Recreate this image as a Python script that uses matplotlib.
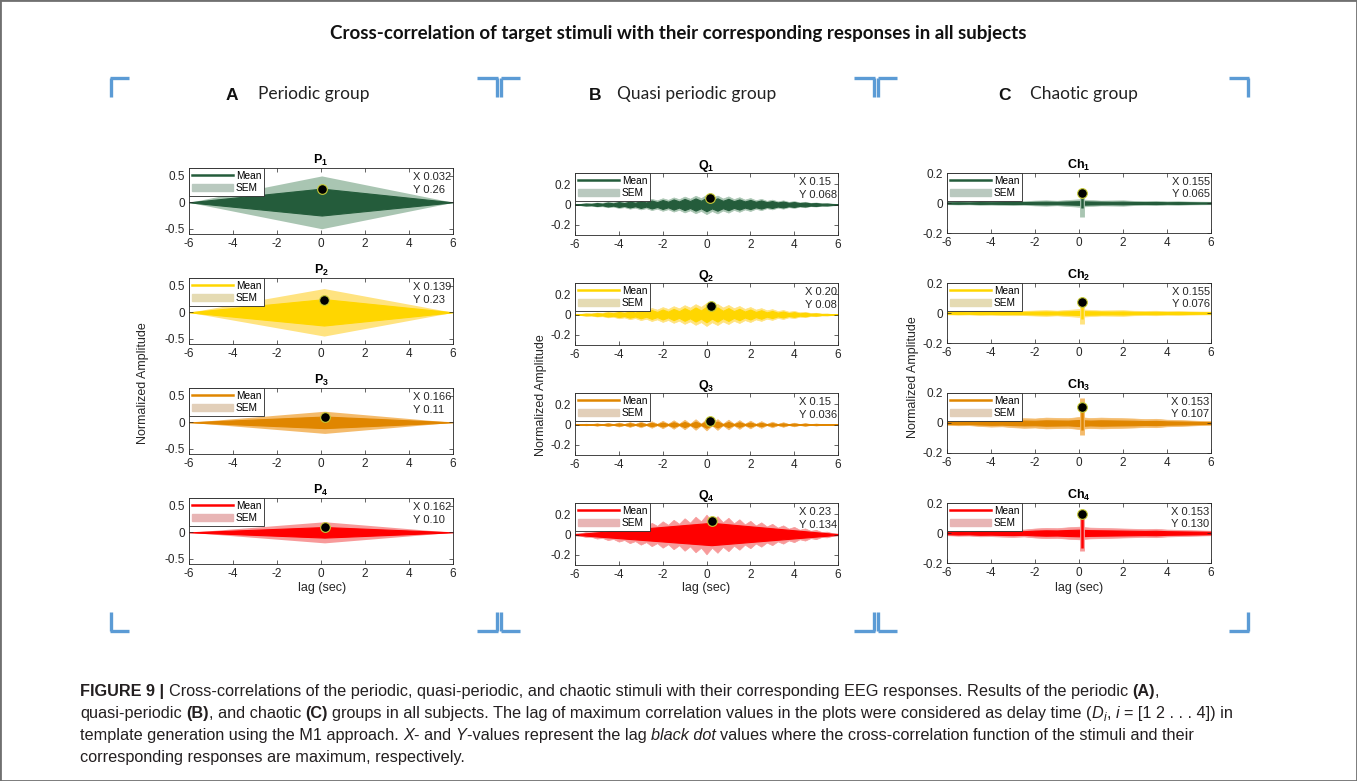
import numpy as np
import matplotlib.pyplot as plt
from matplotlib.lines import Line2D
from matplotlib.patches import Patch, Rectangle

plt.rcParams['font.family'] = ['Liberation Sans', 'DejaVu Sans']
plt.rcParams['axes.unicode_minus'] = False
plt.rcParams['mathtext.fontset'] = 'custom'
plt.rcParams['mathtext.rm'] = 'Liberation Sans'
plt.rcParams['mathtext.bf'] = 'Liberation Sans:bold'
plt.rcParams['mathtext.it'] = 'Liberation Sans:italic'

# ---------------- data ----------------
main_title = "Cross-correlation of target stimuli with their corresponding responses in all subjects"
group_letters = ["A", "B", "C"]
group_names = ["Periodic group", "Quasi periodic group", "Chaotic group"]
panel_titles = [[r"$\mathbf{P_%d}$" % i for i in range(1, 5)],
                [r"$\mathbf{Q_%d}$" % i for i in range(1, 5)],
                [r"$\mathbf{Ch_%d}$" % i for i in range(1, 5)]]

# black dot (data tip) values
peak_x = [[0.032, 0.139, 0.166, 0.162],
          [0.15, 0.20, 0.15, 0.23],
          [0.155, 0.155, 0.153, 0.153]]
peak_y = [[0.26, 0.23, 0.11, 0.10],
          [0.068, 0.08, 0.036, 0.134],
          [0.065, 0.076, 0.107, 0.130]]
tip_x = [["0.032", "0.139", "0.166", "0.162"],
         ["0.15", "0.20", "0.15", "0.23"],
         ["0.155", "0.155", "0.153", "0.153"]]
tip_y = [["0.26", "0.23", "0.11", "0.10"],
         ["0.068", "0.08", "0.036", "0.134"],
         ["0.065", "0.076", "0.107", "0.130"]]

# periodic group: diamond envelopes (value at peak lag, zero at +-6)
p_mean_up = [0.26, 0.25, 0.11, 0.10]
p_mean_lo = [-0.25, -0.25, -0.11, -0.10]
p_sem_up = [0.50, 0.45, 0.21, 0.20]
p_sem_lo = [-0.50, -0.45, -0.21, -0.20]

# quasi periodic group: envelopes read every 0.25 s from -6 to 6
q_lag = np.linspace(-6, 6, 49)
q1_mean = [0.004, 0.004, 0.009, 0.006, 0.014, 0.008, 0.019, 0.011, 0.024, 0.014, 0.029, 0.017,
           0.034, 0.020, 0.039, 0.024, 0.044, 0.027, 0.050, 0.030, 0.055, 0.034, 0.060, 0.037,
           0.066, 0.038, 0.061, 0.036, 0.056, 0.033, 0.050, 0.030, 0.045, 0.027, 0.040, 0.024,
           0.034, 0.020, 0.029, 0.017, 0.024, 0.014, 0.019, 0.011, 0.014, 0.008, 0.009, 0.005, 0.004]
q1_sem = [0.006, 0.007, 0.013, 0.012, 0.020, 0.017, 0.027, 0.021, 0.034, 0.026, 0.041, 0.031,
          0.048, 0.036, 0.055, 0.041, 0.062, 0.046, 0.070, 0.052, 0.078, 0.057, 0.086, 0.063,
          0.095, 0.064, 0.088, 0.059, 0.080, 0.053, 0.072, 0.048, 0.064, 0.042, 0.056, 0.036,
          0.048, 0.031, 0.041, 0.026, 0.034, 0.021, 0.027, 0.016, 0.020, 0.012, 0.013, 0.007, 0.006]
q2_mean = [0.003, 0.003, 0.008, 0.006, 0.013, 0.009, 0.019, 0.012, 0.025, 0.015, 0.031, 0.019,
           0.037, 0.022, 0.043, 0.025, 0.049, 0.028, 0.055, 0.032, 0.062, 0.036, 0.069, 0.040,
           0.076, 0.040, 0.070, 0.036, 0.063, 0.033, 0.056, 0.029, 0.049, 0.025, 0.042, 0.021,
           0.035, 0.018, 0.029, 0.014, 0.023, 0.011, 0.017, 0.008, 0.011, 0.005, 0.006, 0.003, 0.003]
q2_sem = [0.005, 0.006, 0.012, 0.011, 0.020, 0.017, 0.028, 0.023, 0.037, 0.029, 0.046, 0.035,
          0.055, 0.042, 0.064, 0.048, 0.073, 0.054, 0.082, 0.061, 0.092, 0.068, 0.102, 0.075,
          0.113, 0.076, 0.104, 0.069, 0.094, 0.062, 0.084, 0.055, 0.074, 0.048, 0.063, 0.041,
          0.053, 0.034, 0.044, 0.028, 0.035, 0.022, 0.026, 0.015, 0.017, 0.009, 0.009, 0.005, 0.005]
q3_mean = [0.002, 0.001, 0.004, 0.002, 0.006, 0.002, 0.008, 0.002, 0.010, 0.003, 0.012, 0.003,
           0.014, 0.003, 0.016, 0.003, 0.019, 0.004, 0.022, 0.004, 0.025, 0.004, 0.028, 0.005,
           0.032, 0.005, 0.029, 0.004, 0.025, 0.004, 0.022, 0.004, 0.019, 0.003, 0.016, 0.003,
           0.013, 0.003, 0.011, 0.003, 0.009, 0.002, 0.007, 0.002, 0.005, 0.002, 0.003, 0.001, 0.002]
q3_sem = [0.004, 0.003, 0.008, 0.004, 0.012, 0.004, 0.016, 0.005, 0.020, 0.005, 0.024, 0.006,
          0.028, 0.006, 0.032, 0.007, 0.037, 0.007, 0.042, 0.008, 0.047, 0.008, 0.052, 0.009,
          0.058, 0.009, 0.053, 0.008, 0.048, 0.008, 0.043, 0.007, 0.038, 0.007, 0.033, 0.006,
          0.028, 0.006, 0.023, 0.005, 0.018, 0.005, 0.014, 0.004, 0.010, 0.004, 0.006, 0.003, 0.004]
q4_sem = [0.010, 0.012, 0.025, 0.023, 0.040, 0.033, 0.055, 0.044, 0.070, 0.054, 0.085, 0.065,
          0.100, 0.075, 0.115, 0.085, 0.130, 0.096, 0.145, 0.106, 0.160, 0.117, 0.175, 0.130,
          0.195, 0.130, 0.180, 0.121, 0.165, 0.110, 0.150, 0.100, 0.135, 0.089, 0.120, 0.079,
          0.105, 0.068, 0.090, 0.058, 0.075, 0.047, 0.060, 0.036, 0.045, 0.025, 0.028, 0.013, 0.010]
q4_mean_lag = [-6, 0.23, 6]
q4_mean_up = [0.003, 0.115, 0.003]
q4_mean_lo = [-0.003, -0.105, -0.003]

# chaotic group: noise envelopes every 0.5 s plus spike at the peak lag
ch_lag = np.linspace(-6, 6, 25)
ch_mean = [
    [0.004, 0.005, 0.004, 0.006, 0.005, 0.006, 0.007, 0.006, 0.008, 0.009, 0.008, 0.010, 0.012,
     0.010, 0.009, 0.008, 0.009, 0.007, 0.006, 0.007, 0.005, 0.006, 0.005, 0.004, 0.004],
    [0.005, 0.006, 0.005, 0.007, 0.006, 0.008, 0.007, 0.008, 0.009, 0.010, 0.009, 0.011, 0.013,
     0.011, 0.010, 0.009, 0.010, 0.008, 0.007, 0.008, 0.006, 0.007, 0.006, 0.005, 0.005],
    [0.006, 0.008, 0.007, 0.010, 0.012, 0.011, 0.014, 0.016, 0.015, 0.018, 0.017, 0.016, 0.020,
     0.016, 0.018, 0.017, 0.016, 0.015, 0.013, 0.014, 0.011, 0.010, 0.009, 0.007, 0.006],
    [0.008, 0.010, 0.009, 0.012, 0.011, 0.013, 0.014, 0.012, 0.016, 0.018, 0.017, 0.020, 0.022,
     0.019, 0.018, 0.017, 0.016, 0.015, 0.014, 0.015, 0.012, 0.011, 0.010, 0.009, 0.008]]
ch_sem = [
    [0.008, 0.010, 0.009, 0.012, 0.011, 0.013, 0.014, 0.012, 0.016, 0.018, 0.015, 0.020, 0.025,
     0.020, 0.016, 0.017, 0.018, 0.014, 0.013, 0.014, 0.011, 0.012, 0.010, 0.009, 0.008],
    [0.009, 0.011, 0.010, 0.013, 0.012, 0.014, 0.015, 0.014, 0.017, 0.019, 0.016, 0.021, 0.026,
     0.021, 0.017, 0.018, 0.019, 0.015, 0.014, 0.015, 0.012, 0.013, 0.011, 0.010, 0.009],
    [0.012, 0.015, 0.014, 0.020, 0.024, 0.022, 0.028, 0.032, 0.030, 0.036, 0.034, 0.032, 0.040,
     0.033, 0.036, 0.034, 0.032, 0.030, 0.026, 0.028, 0.022, 0.020, 0.017, 0.014, 0.012],
    [0.015, 0.018, 0.017, 0.022, 0.021, 0.024, 0.026, 0.023, 0.030, 0.034, 0.032, 0.038, 0.042,
     0.036, 0.034, 0.032, 0.030, 0.028, 0.026, 0.028, 0.023, 0.021, 0.019, 0.017, 0.015]]
ch_spike_mean = [(-0.035, 0.065), (-0.04, 0.076), (-0.05, 0.107), (-0.10, 0.13)]
ch_spike_sem = [(-0.09, 0.07), (-0.07, 0.06), (-0.08, 0.165), (-0.12, 0.13)]

# colours per row
mean_c = ['#245c3b', '#ffd600', '#e08600', '#ff0000']
sem_c = ['#a9c5b2', '#ffe380', '#f4bb6c', '#f79a9a']
leg_sem_c = ['#b9c9bf', '#e5dbb3', '#e2cfb9', '#e8b5b5']

W, H = 1357, 781
fig = plt.figure(figsize=(W / 100, H / 100), dpi=100)


def add_ax(left, top, width, height):
    return fig.add_axes([left / W, 1 - (top + height) / H, width / W, height / H])


def style_ax(ax, yt, ylim, title, r, col, i):
    ax.set_xlim(-6, 6)
    ax.set_ylim(*ylim)
    ax.set_xticks(range(-6, 7, 2))
    ax.set_yticks(yt)
    ax.set_yticklabels([('%g' % v) for v in yt])
    ax.tick_params(direction='in', top=True, right=True, length=3, width=0.5,
                   labelsize=8.5, labelcolor='#262626', color='#262626', pad=3)
    for s in ax.spines.values():
        s.set_color('#262626')
        s.set_linewidth(0.6)
    ax.set_title(title, fontsize=9, pad=3)
    ax.plot(peak_x[col][i], peak_y[col][i], 'o', ms=7, mfc='black', mec='#c8cc3a',
            mew=0.8, zorder=6)
    ax.text(0.995, 0.94, "X %s\nY %s" % (tip_x[col][i], tip_y[col][i]), transform=ax.transAxes,
            ha='right', va='top', multialignment='left', fontsize=8, linespacing=1.35,
            color='#262626', zorder=7)
    handles = [Line2D([], [], color=mean_c[r], lw=1.8), Patch(color=leg_sem_c[r])]
    leg = ax.legend(handles, ['Mean', 'SEM'], loc='upper left', bbox_to_anchor=(0, 1),
                    borderaxespad=0, fontsize=7.3, handlelength=4, handletextpad=0.3,
                    borderpad=0.3, labelspacing=0.2, fancybox=False, framealpha=1,
                    edgecolor='#262626')
    leg.get_frame().set_linewidth(0.6)
    leg.set_zorder(8)


# column A - periodic
for i in range(4):
    ax = add_ax(189, 168 + 110 * i, 264, 66)
    lag = [-6, peak_x[0][i], 6]
    ax.fill_between(lag, [0, p_sem_lo[i], 0], [0, p_sem_up[i], 0], color=sem_c[i], lw=0)
    ax.fill_between(lag, [0, p_mean_lo[i], 0], [0, p_mean_up[i], 0], color=mean_c[i],
                    lw=0.8, edgecolor=mean_c[i])
    style_ax(ax, [-0.5, 0, 0.5], (-0.6, 0.65), panel_titles[0][i], i, 0, i)

# column B - quasi periodic
q_mean = [q1_mean, q2_mean, q3_mean]
q_sem = [q1_sem, q2_sem, q3_sem, q4_sem]
for i in range(4):
    ax = add_ax(575, 173 + 110 * i, 263, 62)
    sem = np.array(q_sem[i])
    ax.fill_between(q_lag, -sem, sem, color=sem_c[i], lw=0.5, edgecolor=sem_c[i])
    if i < 3:
        m = np.array(q_mean[i])
        ax.fill_between(q_lag, -m, m, color=mean_c[i], lw=0.8, edgecolor=mean_c[i])
    else:
        ax.fill_between(q4_mean_lag, q4_mean_lo, q4_mean_up, color=mean_c[i], lw=0.8,
                        edgecolor=mean_c[i])
    style_ax(ax, [-0.2, 0, 0.2], (-0.3, 0.31), panel_titles[1][i], i, 1, i)

# column C - chaotic
for i in range(4):
    ax = add_ax(947, 173 + 110 * i, 264, 60)
    sem = np.array(ch_sem[i])
    m = np.array(ch_mean[i])
    ax.fill_between(ch_lag, -sem, sem, color=sem_c[i], lw=0.5, edgecolor=sem_c[i])
    ax.fill_between(ch_lag, -m, m, color=mean_c[i], lw=0.8, edgecolor=mean_c[i])
    ax.vlines(peak_x[2][i], *ch_spike_sem[i], color=sem_c[i], lw=3.5)
    ax.vlines(peak_x[2][i], *ch_spike_mean[i], color=mean_c[i], lw=1.8)
    style_ax(ax, [-0.2, 0, 0.2], (-0.2, 0.2), panel_titles[2][i], i, 2, i)

# axis labels
for xc, yc in [(143, 383), (541, 395), (913, 377)]:
    fig.text(xc / W, 1 - yc / H, "Normalized Amplitude", rotation=90, ha='center',
             va='center', fontsize=9, color='#262626')
for xc in [322, 706, 1079]:
    fig.text(xc / W, 1 - 588 / H, "lag (sec)", ha='center', va='center', fontsize=9,
             color='#262626')

# headings
fig.text(678 / W, 1 - 34 / H, main_title, ha='center', va='center', fontsize=13.5,
         fontweight='bold', family=['Lato', 'DejaVu Sans'], color='#111111')
for lx, nx, letter, name in zip([232, 595, 1005], [258, 617, 1030], group_letters, group_names):
    fig.text(lx / W, 1 - 95 / H, letter, ha='center', va='center', fontsize=12.5,
             fontweight='bold', color='#111111')
    fig.text(nx / W, 1 - 94 / H, name, ha='left', va='center', fontsize=12.5,
             family=['Lato', 'DejaVu Sans'], color='#222222')

# blue corner brackets (x0, x1 horizontal; xv vertical; y horizontal, y end vertical)
bracket_c = '#5b9bd5'
brackets = []
for yh, yv in [(78, 97), (631, 612)]:
    brackets += [(110, 129, 111, yh, yv), (477, 498, 497, yh, yv), (501, 520, 501, yh, yv),
                 (854, 875, 874, yh, yv), (878, 897, 878, yh, yv), (1229, 1249, 1248, yh, yv)]
for x0, x1, xv, yh, yv in brackets:
    fig.add_artist(Line2D([x0 / W, x1 / W], [1 - yh / H, 1 - yh / H], color=bracket_c,
                          lw=2.4, solid_capstyle='butt'))
    fig.add_artist(Line2D([xv / W, xv / W], [1 - yh / H, 1 - yv / H], color=bracket_c,
                          lw=2.4, solid_capstyle='butt'))

# outer frame
fig.add_artist(Rectangle((0, 0), 1, 1, transform=fig.transFigure, fill=False,
                         ec='#707070', lw=2))

# caption with mixed styles
cap_font = ['Liberation Sans', 'DejaVu Sans']
cap_size = 11.7
cap_color = '#231f20'
renderer = fig.canvas.get_renderer()
t1 = fig.text(0, 0, 'a a', fontsize=cap_size, family=cap_font)
t2 = fig.text(0, 0, 'aa', fontsize=cap_size, family=cap_font)
sw = t1.get_window_extent(renderer).width - t2.get_window_extent(renderer).width
t1.remove()
t2.remove()


def rich_line(x, y, runs):
    for s, st in runs:
        if s.startswith(' '):
            x += sw
        kw = dict(fontsize=cap_size, family=cap_font, color=cap_color, va='baseline')
        yy = y
        if st == 'b':
            kw['fontweight'] = 'bold'
        if st in ('i', 's'):
            kw['fontstyle'] = 'italic'
        if st == 's':
            kw['fontsize'] = cap_size * 0.72
            yy = y + 3
        t = fig.text(x / W, 1 - yy / H, s.strip(), **kw)
        x += t.get_window_extent(renderer).width
        if s.endswith(' '):
            x += sw


caption = [
    [("FIGURE 9 | ", 'b'),
     ("Cross-correlations of the periodic, quasi-periodic, and chaotic stimuli with their "
      "corresponding EEG responses. Results of the periodic ", 'n'), ("(A)", 'b'), (",", 'n')],
    [("quasi-periodic ", 'n'), ("(B)", 'b'), (", and chaotic ", 'n'), ("(C)", 'b'),
     (" groups in all subjects. The lag of maximum correlation values in the plots were "
      "considered as delay time (", 'n'), ("D", 'i'), ("i", 's'), (", ", 'n'), ("i", 'i'),
     (" = [1 2 . . . 4]) in", 'n')],
    [("template generation using the M1 approach. ", 'n'), ("X", 'i'), ("- and ", 'n'),
     ("Y", 'i'), ("-values represent the lag ", 'n'), ("black dot", 'i'),
     (" values where the cross-correlation function of the stimuli and their", 'n')],
    [("corresponding responses are maximum, respectively.", 'n')]]
for k, runs in enumerate(caption):
    rich_line(80, 696 + 22 * k, runs)

fig.savefig("out.png", dpi=100)
